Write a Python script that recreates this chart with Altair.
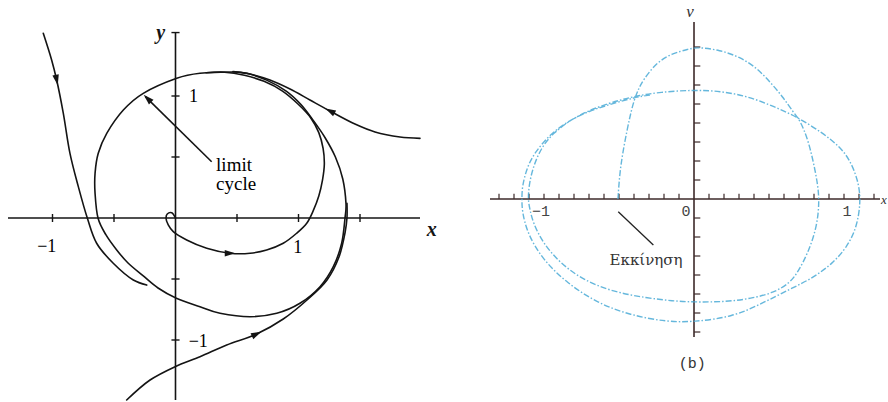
import altair as alt
import pandas as pd

# ---------------- left panel: limit cycle phase portrait ----------------
# limit cycle (closed orbit, counter-clockwise)
LC_X = [0.579, 0.467, 0.199, 0.01, -0.262, -0.424, -0.559, -0.628, -0.654, -0.654, -0.63,
        -0.565, -0.478, -0.386, -0.262, -0.142, 0.007, 0.199, 0.362, 0.606, 0.823, 1.012,
        1.175, 1.283, 1.351, 1.378, 1.386, 1.36, 1.3, 1.215, 1.12, 1.02, 0.9, 0.741]
LC_Y = [1.186, 1.197, 1.186, 1.145, 1.022, 0.885, 0.694, 0.53, 0.366, 0.202, 0.0,
        -0.139, -0.262, -0.369, -0.475, -0.574, -0.658, -0.727, -0.781, -0.809, -0.781, -0.699,
        -0.563, -0.399, -0.207, -0.002, 0.12, 0.32, 0.5, 0.66, 0.8, 0.93, 1.04, 1.13]

# trajectory spiralling out from the origin
SP_X = [0, -0.031, -0.067, -0.077, -0.059, -0.018, 0.091, 0.254, 0.443, 0.606, 0.741, 0.876,
        0.985, 1.067, 1.12, 1.165, 1.195, 1.21, 1.2, 1.165, 1.1, 1.0, 0.87, 0.72, 0.56, 0.4, 0.25]
SP_Y = [0, 0.043, 0.033, -0.002, -0.057, -0.112, -0.18, -0.248, -0.289, -0.289, -0.262, -0.207,
        -0.125, -0.043, 0.06, 0.18, 0.31, 0.44, 0.57, 0.7, 0.82, 0.93, 1.04, 1.12, 1.17, 1.195, 1.19]

# trajectory entering from the upper left
TL_X = [-1.075, -1.007, -0.966, -0.912, -0.858, -0.79, -0.717, -0.641, -0.506, -0.343, -0.234]
TL_Y = [1.514, 1.295, 1.131, 0.858, 0.53, 0.257, 0.0, -0.207, -0.371, -0.508, -0.55]

# trajectory entering from the right
TR_X = [1.988, 1.825, 1.622, 1.459, 1.256, 1.093, 0.931, 0.768, 0.606, 0.467]
TR_Y = [0.653, 0.664, 0.705, 0.77, 0.877, 0.967, 1.057, 1.131, 1.18, 1.2]

# trajectory entering from below
BT_X = [-0.397, -0.207, -0.004, 0.199, 0.416, 0.66, 0.876, 1.069, 1.232, 1.329, 1.378, 1.394, 1.394]
BT_Y = [-1.492, -1.328, -1.219, -1.137, -1.041, -0.951, -0.828, -0.672, -0.508, -0.32, -0.123, 0.0, 0.12]

# direction arrows on the trajectories (position and heading in degrees)
ARROW_X = [-0.966, 1.256, 0.66, 0.443, -0.228]
ARROW_Y = [1.131, 0.877, -0.951, -0.289, 0.98]
ARROW_ANGLE = [168, 298, 65, 90, 314]

L_TICKS = [-1, -0.5, 0.5, 1, 1.5]
L_YTICKS = [-1, -0.5, 0.5, 1, 1.52]

# ---------------- right panel: measured trajectory ----------------
RX = [-0.507, -0.493, -0.447, -0.407, -0.373, -0.34, -0.247, -0.14, -0.033, 0.02,
      0.173, 0.307, 0.42, 0.507, 0.593, 0.66, 0.707, 0.76, 0.793, 0.82,
      0.837, 0.82, 0.76, 0.693, 0.64, 0.527, 0.393, 0.26, 0.127, -0.007,
      -0.14, -0.313, -0.54, -0.74, -0.893, -1.007, -1.073, -1.093, -1.107, -1.1,
      -1.073, -1.02, -0.94, -0.807, -0.647, -0.493, -0.387, -0.227, 0.0, 0.173,
      0.353, 0.527, 0.687, 0.86, 0.973, 1.04, 1.093, 1.113, 1.087, 1.02,
      0.927, 0.793, 0.64, 0.46, 0.26, -0.007, -0.18, -0.427, -0.647, -0.847,
      -1.007, -1.113, -1.147, -1.147, -1.147, -1.113, -1.06, -0.953, -0.807, -0.647,
      -0.387, -0.293]
RV = [0.0, 0.168, 0.363, 0.505, 0.574, 0.626, 0.721, 0.768, 0.789, 0.8,
      0.784, 0.747, 0.689, 0.616, 0.537, 0.458, 0.416, 0.311, 0.205, 0.1,
      -0.005, -0.147, -0.284, -0.384, -0.442, -0.495, -0.521, -0.537, -0.542, -0.542,
      -0.537, -0.521, -0.489, -0.426, -0.337, -0.232, -0.126, -0.058, -0.005, 0.074,
      0.168, 0.268, 0.347, 0.426, 0.484, 0.521, 0.542, 0.563, 0.574, 0.568,
      0.542, 0.489, 0.432, 0.347, 0.274, 0.205, 0.1, -0.005, -0.147, -0.253,
      -0.337, -0.416, -0.474, -0.547, -0.621, -0.647, -0.647, -0.611, -0.547, -0.442,
      -0.321, -0.179, -0.058, -0.005, 0.063, 0.168, 0.247, 0.347, 0.426, 0.479,
      0.537, 0.547]

R_XTICKS = [k / 10 for k in range(-13, 13) if k != 0]
R_YTICKS = [k / 10 for k in range(-7, 9) if k != 0]

L_XDOM = [-1.4268, 2.1829]
L_YDOM = [-1.5082, 1.7869]
R_XDOM = [-1.6667, 1.2933]
R_YDOM = [-1.0684, 1.0474]

INK = "#141414"
CYAN = "#4aaad6"
AXIS_R = "#3d2a2a"
ARROW_PATH = "M0,-1L0.62,1L-0.62,1Z"


def path(name, xs, ys):
    return pd.DataFrame({"curve": name, "i": range(len(xs)), "x": xs, "y": ys})


def enc_xy(xdom, ydom):
    return dict(
        x=alt.X("x:Q", scale=alt.Scale(domain=xdom, nice=False, zero=False), axis=None),
        y=alt.Y("y:Q", scale=alt.Scale(domain=ydom, nice=False, zero=False), axis=None),
    )


def segs(rows, xdom, ydom, color, width):
    df = pd.DataFrame(rows, columns=["x", "y", "x2", "y2"])
    return alt.Chart(df).mark_rule(color=color, strokeWidth=width, clip=True).encode(
        x2="x2:Q", y2="y2:Q", **enc_xy(xdom, ydom))


def labels(rows, xdom, ydom, **style):
    df = pd.DataFrame(rows, columns=["x", "y", "t"])
    return alt.Chart(df).mark_text(clip=True, **style).encode(
        text="t:N", **enc_xy(xdom, ydom))


# ---- left panel layers ----
open_curves = pd.concat([
    path("spiral", SP_X, SP_Y),
    path("upper_left", TL_X, TL_Y),
    path("right", TR_X, TR_Y),
    path("bottom", BT_X, BT_Y),
])
traj = alt.Chart(open_curves).mark_line(
    color=INK, strokeWidth=1.6, interpolate="catmull-rom", strokeCap="round"
).encode(detail="curve:N", order="i:Q", **enc_xy(L_XDOM, L_YDOM))

cycle = alt.Chart(path("cycle", LC_X, LC_Y)).mark_line(
    color=INK, strokeWidth=1.6, interpolate="cardinal-closed"
).encode(order="i:Q", **enc_xy(L_XDOM, L_YDOM))

l_axes = segs([[-1.362, 0, 1.988, 0], [0, 1.52, 0, -1.492]], L_XDOM, L_YDOM, INK, 1.6)
l_ticks = segs([[t, -0.033, t, 0.033] for t in L_TICKS] +
               [[-0.033, t, 0.033, t] for t in L_YTICKS], L_XDOM, L_YDOM, INK, 1.4)
pointer = segs([[0.294, 0.461, -0.245, 0.995]], L_XDOM, L_YDOM, INK, 1.6)

arrows = alt.Chart(pd.DataFrame({"x": ARROW_X, "y": ARROW_Y, "a": ARROW_ANGLE})).mark_point(
    shape=ARROW_PATH, filled=True, color=INK, size=110, opacity=1
).encode(angle=alt.Angle("a:Q", scale=None), **enc_xy(L_XDOM, L_YDOM))

l_nums = labels([[0.146, 0.994, "1"], [-1.047, -0.235, "−1"], [0.993, -0.248, "1"],
                 [0.185, -1.014, "−1"]], L_XDOM, L_YDOM,
                font="Liberation Serif", fontSize=18, color="#000000", align="center",
                baseline="middle")
l_names = labels([[-0.12, 1.516, "y"], [2.083, -0.098, "x"]], L_XDOM, L_YDOM,
                 font="Liberation Serif", fontSize=20, fontStyle="italic", fontWeight="bold",
                 color=INK, align="center", baseline="middle")
l_note = labels([[0.33, 0.385, "limit"], [0.33, 0.23, "cycle"]], L_XDOM, L_YDOM,
                font="Liberation Serif", fontSize=19, color="#000000", align="left",
                baseline="alphabetic")

left = alt.layer(l_axes, l_ticks, cycle, traj, pointer, arrows, l_nums, l_names, l_note
                 ).properties(width=444, height=402)

# ---- right panel layers ----
measured = alt.Chart(path("run", RX, RV)).mark_line(
    color=CYAN, strokeWidth=1.4, opacity=0.85, strokeDash=[6, 2, 1.5, 2],
    interpolate="basis", clip=True
).encode(order="i:Q", **enc_xy(R_XDOM, R_YDOM))

r_axes = segs([[-1.36, 0, 1.24, 0], [0, 0.932, 0, -0.726]], R_XDOM, R_YDOM, AXIS_R, 1.6)
r_ticks = segs([[t, 0, t, 0.028] for t in R_XTICKS] +
               [[0, t, 0.042, t] for t in R_YTICKS], R_XDOM, R_YDOM, AXIS_R, 1.2)
start_line = segs([[-0.505, -0.067, -0.271, -0.242]], R_XDOM, R_YDOM, "#222222", 1.3)

r_nums = labels([[-1.02, -0.063, "−1"], [-0.053, -0.063, "0"], [1.02, -0.063, "1"]],
                R_XDOM, R_YDOM, font="Liberation Mono", fontSize=15, color="#444444",
                align="center", baseline="middle")
r_v = labels([[-0.027, 0.984, "v"]], R_XDOM, R_YDOM,
             font="Liberation Serif", fontSize=17, fontStyle="italic", color="#333333",
             align="center", baseline="middle")
r_x = labels([[1.247, -0.005, "x"]], R_XDOM, R_YDOM,
             font="Liberation Serif", fontSize=13, fontStyle="italic", color="#333333",
             align="left", baseline="middle")
r_start = labels([[-0.32, -0.321, "Εκκίνηση"]], R_XDOM, R_YDOM,
                 font="DejaVu Serif", fontSize=15, color="#333333", align="center",
                 baseline="middle")
r_caption = labels([[-0.011, -0.865, "(b)"]], R_XDOM, R_YDOM,
                   font="Liberation Mono", fontSize=15, color="#333333", align="center",
                   baseline="middle")

right = alt.layer(r_axes, r_ticks, measured, start_line, r_nums, r_v, r_x, r_start, r_caption
                  ).properties(width=444, height=402)

chart = alt.hconcat(left, right, spacing=0).properties(
    padding=0, background="white"
).configure_view(strokeWidth=0)

chart.save("out.html", embed_options={"renderer": "svg", "actions": False})
